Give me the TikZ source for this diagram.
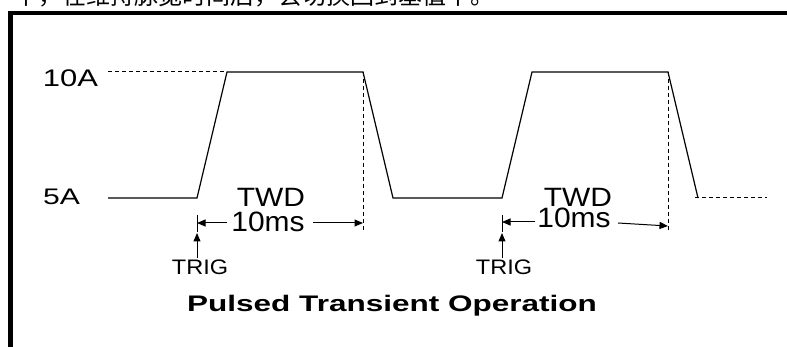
\documentclass[tikz,border=0pt]{standalone}
\usepackage{fontspec}
\setmainfont{Liberation Sans}
\newfontfamily\cjk{Noto Sans CJK SC}
\usetikzlibrary{arrows.meta}
\newcommand{\wx}[2]{\scalebox{#1}[1]{#2}}
\newcommand{\fs}[1]{\fontsize{#1}{#1}\selectfont}
\begin{document}
\begin{tikzpicture}[x=1pt,y=-1pt,
  wave/.style={line width=1.2pt, line join=miter},
  guide/.style={line width=1pt, dash pattern=on 4pt off 3pt},
  tick/.style={line width=1pt},
  arr/.style={line width=1pt, -{Triangle[length=8.5pt,width=7pt]}},
  lbl/.style={inner sep=0pt, anchor=base}]
\useasboundingbox (0,0) rectangle (787,347);
\clip (0,0) rectangle (787,347);
% clipped line of text above the frame
\node[anchor=base west, inner sep=0pt, font=\cjk\fs{24}] (topline) at (14,5) {中，在维持脉宽时间后，会切换回到基值中。};
% frame
\draw[line width=4.5pt] (10.5,360) -- (10.5,13) -- (800,13);
% waveform points
\coordinate (a0) at (108,198);
\coordinate (r1) at (197,198);
\coordinate (t1) at (227,72);
\coordinate (f1) at (363,72);
\coordinate (b1) at (393,198);
\coordinate (r2) at (502,198);
\coordinate (t2) at (532,72);
\coordinate (f2) at (668,72);
\coordinate (b2) at (698,198);
\coordinate (h0) at (108,72);
\coordinate (e0) at (695,198);
\coordinate (e1) at (767,198);
\draw[wave] (a0) -- (r1) -- (t1) -- (f1) -- (b1) -- (r2) -- (t2) -- (f2) -- (b2);
\draw[guide] (h0) -- (t1);
\draw[guide] (e0) -- (e1);
\coordinate (d1) at (363,232);
\coordinate (d2) at (668,232);
\draw[guide] (f1) -- (d1);
\draw[guide] (f2) -- (d2);
% ticks
\coordinate (k1a) at (197,215); \coordinate (k1b) at (197,232);
\coordinate (k2a) at (502,215); \coordinate (k2b) at (502,232);
\draw[tick] (k1a) -- (k1b);
\draw[tick] (k2a) -- (k2b);
% labels
\node[lbl] (l10) at (70.5,87) {\wx{1.29}{\fs{24}10A}};
\node[lbl] (l5) at (61.5,205) {\wx{1.34}{\fs{22.5}5A}};
\node[lbl] (twd1) at (271,206.5) {\wx{1.13}{\fs{26.5}TWD}};
\node[lbl] (twd2) at (578,207) {\wx{1.13}{\fs{26.5}TWD}};
\node[lbl] (ms1) at (268,231.5) {\wx{1.07}{\fs{28}10ms}};
\node[lbl] (ms2) at (574,228) {\wx{1.07}{\fs{28}10ms}};
\node[lbl] (trig1) at (200,275) {\wx{1.12}{\fs{21}TRIG}};
\node[lbl] (trig2) at (504,275) {\wx{1.12}{\fs{21}TRIG}};
\node[lbl] (title) at (392,312) {\wx{1.40}{\fs{22.5}\bfseries Pulsed Transient Operation}};
% dimension arrows
\coordinate (m1l) at (227,223); \coordinate (m1lt) at (197,223);
\coordinate (m1r) at (313,223); \coordinate (m1rt) at (363,223);
\coordinate (m2l) at (535,222); \coordinate (m2lt) at (502,222);
\coordinate (m2r) at (618,223); \coordinate (m2rt) at (668,226);
\draw[arr] (m1l) -- (m1lt);
\draw[arr] (m1r) -- (m1rt);
\draw[arr] (m2l) -- (m2lt);
\draw[arr] (m2r) -- (m2rt);
% trigger arrows
\coordinate (g1) at (197,258); \coordinate (g1t) at (197,233);
\coordinate (g2) at (502,258); \coordinate (g2t) at (502,233);
\draw[arr] (g1) -- (g1t);
\draw[arr] (g2) -- (g2t);
\end{tikzpicture}
\end{document}
